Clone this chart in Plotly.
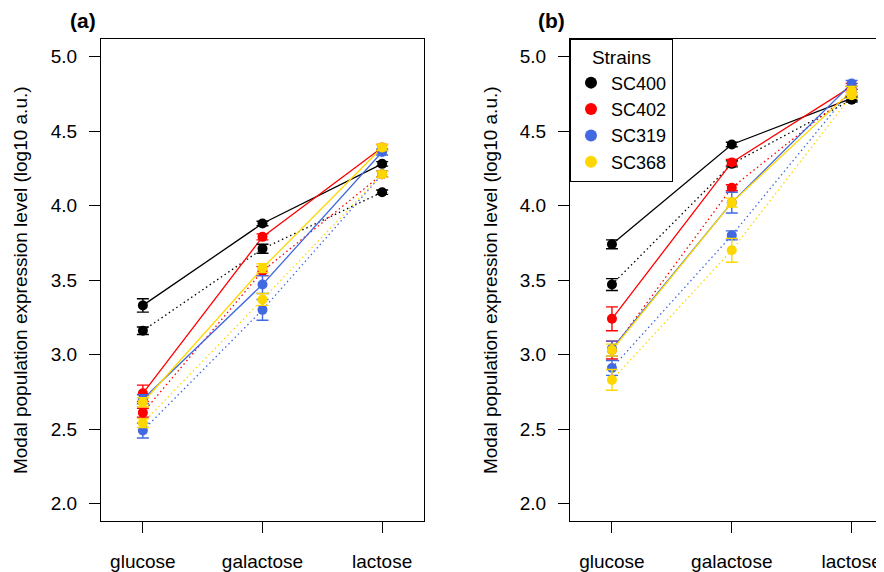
import plotly.graph_objects as go

media = ["glucose", "galactose", "lactose"]
x_pos = [1, 2, 3]
strains = ["SC400", "SC402", "SC319", "SC368"]
colors = ["black", "#FF0000", "#4169E1", "#FFD700"]
y_ticks = [2.0, 2.5, 3.0, 3.5, 4.0, 4.5, 5.0]

# Panel (a): condition 1 (solid line) and condition 2 (dotted line)
a_solid_sc400 = [3.33, 3.88, 4.28]
a_solid_sc402 = [2.74, 3.79, 4.39]
a_solid_sc319 = [2.70, 3.47, 4.36]
a_solid_sc368 = [2.68, 3.58, 4.39]
a_dot_sc400 = [3.16, 3.71, 4.09]
a_dot_sc402 = [2.61, 3.56, 4.21]
a_dot_sc319 = [2.49, 3.30, 4.21]
a_dot_sc368 = [2.54, 3.37, 4.21]
a_solid_err_sc400 = [0.045, 0.015, 0.015]
a_solid_err_sc402 = [0.055, 0.02, 0.02]
a_solid_err_sc319 = [0.03, 0.06, 0.02]
a_solid_err_sc368 = [0.03, 0.03, 0.02]
a_dot_err_sc400 = [0.025, 0.03, 0.015]
a_dot_err_sc402 = [0.03, 0.03, 0.02]
a_dot_err_sc319 = [0.05, 0.07, 0.02]
a_dot_err_sc368 = [0.03, 0.04, 0.02]

# Panel (b)
b_solid_sc400 = [3.74, 4.41, 4.72]
b_solid_sc402 = [3.24, 4.29, 4.80]
b_solid_sc319 = [3.04, 4.02, 4.82]
b_solid_sc368 = [3.03, 4.02, 4.77]
b_dot_sc400 = [3.47, 4.28, 4.71]
b_dot_sc402 = [3.03, 4.12, 4.76]
b_dot_sc319 = [2.91, 3.80, 4.78]
b_dot_sc368 = [2.83, 3.70, 4.74]
b_solid_err_sc400 = [0.03, 0.015, 0.015]
b_solid_err_sc402 = [0.08, 0.02, 0.02]
b_solid_err_sc319 = [0.05, 0.07, 0.02]
b_solid_err_sc368 = [0.04, 0.03, 0.03]
b_dot_err_sc400 = [0.04, 0.02, 0.015]
b_dot_err_sc402 = [0.06, 0.02, 0.02]
b_dot_err_sc319 = [0.05, 0.03, 0.02]
b_dot_err_sc368 = [0.07, 0.08, 0.02]

panels = {
    "a": {
        "solid": [a_solid_sc400, a_solid_sc402, a_solid_sc319, a_solid_sc368],
        "dot": [a_dot_sc400, a_dot_sc402, a_dot_sc319, a_dot_sc368],
        "solid_err": [a_solid_err_sc400, a_solid_err_sc402, a_solid_err_sc319, a_solid_err_sc368],
        "dot_err": [a_dot_err_sc400, a_dot_err_sc402, a_dot_err_sc319, a_dot_err_sc368],
        "xa": "x", "ya": "y",
    },
    "b": {
        "solid": [b_solid_sc400, b_solid_sc402, b_solid_sc319, b_solid_sc368],
        "dot": [b_dot_sc400, b_dot_sc402, b_dot_sc319, b_dot_sc368],
        "solid_err": [b_solid_err_sc400, b_solid_err_sc402, b_solid_err_sc319, b_solid_err_sc368],
        "dot_err": [b_dot_err_sc400, b_dot_err_sc402, b_dot_err_sc319, b_dot_err_sc368],
        "xa": "x2", "ya": "y2",
    },
}

# page body has an 8px margin: figure is 876x564, placed at (8, 8)
W, H, OFF = 876, 564, 8


def fx(px):
    return (px - OFF) / W


def fy(py):
    return 1 - (py - OFF) / H


FONT = "Liberation Sans, Arial, Helvetica, sans-serif"
fig = go.Figure()

for pname, p in panels.items():
    for i, (s, c) in enumerate(zip(strains, colors)):
        fig.add_trace(go.Scatter(x=x_pos, y=p["dot"][i], mode="lines",
                                 line=dict(color=c, width=1.3, dash="1.5px,3px"),
                                 xaxis=p["xa"], yaxis=p["ya"], showlegend=False,
                                 hoverinfo="skip"))
        fig.add_trace(go.Scatter(x=x_pos, y=p["solid"][i], mode="lines",
                                 line=dict(color=c, width=1.3),
                                 xaxis=p["xa"], yaxis=p["ya"], showlegend=False,
                                 hoverinfo="skip"))
    for i, (s, c) in enumerate(zip(strains, colors)):
        for key, ekey in (("dot", "dot_err"), ("solid", "solid_err")):
            fig.add_trace(go.Scatter(
                x=x_pos, y=p[key][i], mode="markers",
                marker=dict(color=c, size=10),
                error_y=dict(type="data", array=p[ekey][i], color=c,
                             thickness=1.4, width=6),
                xaxis=p["xa"], yaxis=p["ya"], name=s,
                showlegend=(pname == "b" and key == "solid")))

ax_common = dict(showline=True, linecolor="black", linewidth=1,
                 ticks="outside", ticklen=11, tickcolor="black",
                 showgrid=False, zeroline=False,
                 tickfont=dict(family=FONT, size=19, color="black"))

y_dom = [fy(526), fy(39)]
fig.update_layout(
    width=W, height=H,
    margin=dict(l=0, r=0, t=0, b=0),
    paper_bgcolor="white", plot_bgcolor="white",
    font=dict(family=FONT, size=19, color="black"),
    xaxis=dict(domain=[fx(101), fx(424)], range=[0.65, 3.35],
               tickvals=x_pos, ticktext=media, mirror=True,
               ticklabelstandoff=12, anchor="y", **ax_common),
    yaxis=dict(domain=y_dom, range=[1.88, 5.12], tickvals=y_ticks,
               tickformat=".1f", mirror=True, ticklabelstandoff=8,
               anchor="x", **ax_common),
    xaxis2=dict(domain=[fx(570), 1.0], range=[0.65, 3.27],
                tickvals=x_pos, ticktext=media, mirror=True,
                ticklabelstandoff=12, anchor="y2", **ax_common),
    yaxis2=dict(domain=y_dom, range=[1.88, 5.12], tickvals=y_ticks,
                tickformat=".1f", mirror=False, ticklabelstandoff=8,
                anchor="x2", **ax_common),
    showlegend=True,
    legend=dict(x=fx(570), y=fy(39), xanchor="left", yanchor="top",
                bordercolor="black", borderwidth=1, bgcolor="white",
                title=dict(text="Strains", side="top center",
                           font=dict(family=FONT, size=19)),
                font=dict(family=FONT, size=18), itemsizing="constant",
                tracegroupgap=0),
)

for xp in (20, 490):
    fig.add_annotation(x=fx(xp), y=fy(282.5), xref="paper", yref="paper",
                       xanchor="center", yanchor="middle",
                       text="Modal population expression level (log10 a.u.)",
                       textangle=-90, showarrow=False,
                       font=dict(family=FONT, size=19, color="black"))

for xp, lab in ((83, "(a)"), (551, "(b)")):
    fig.add_annotation(x=fx(xp), y=fy(21), xref="paper", yref="paper",
                       xanchor="center", yanchor="middle",
                       text="<b>" + lab + "</b>", showarrow=False,
                       font=dict(family=FONT, size=21, color="black"))

fig.write_html("out.html")
